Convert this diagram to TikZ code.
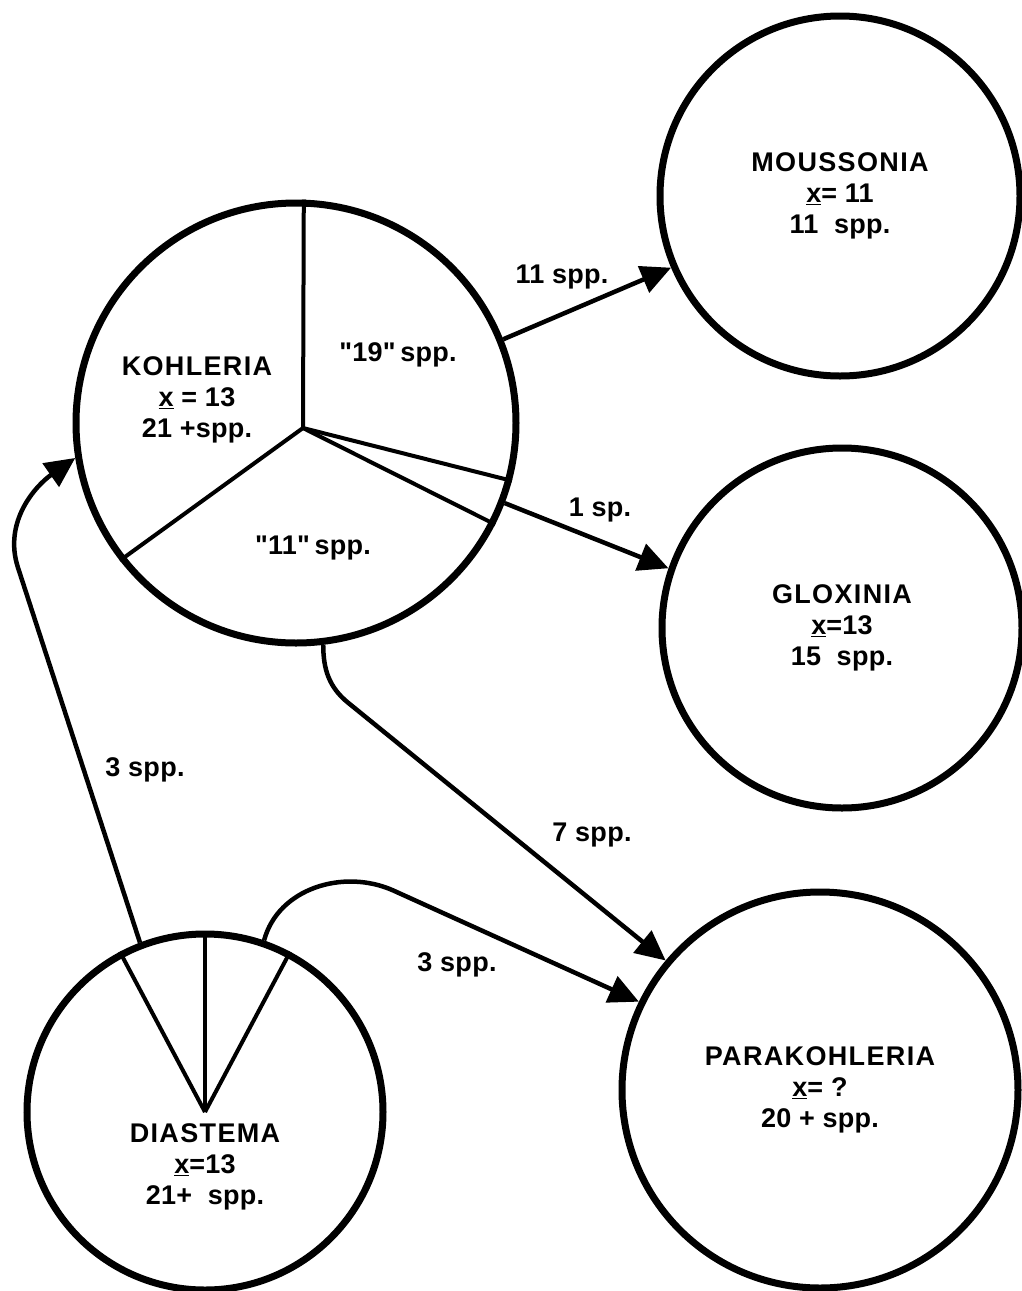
\documentclass[tikz,border=0pt]{standalone}
\usepackage{fontspec}
\setmainfont{Liberation Sans}[LetterSpace=1,Ligatures=TeXOff]
\usepackage{tikz}
\usetikzlibrary{arrows.meta}
\newcommand{\gname}[1]{{\addfontfeature{LetterSpace=5}#1}}

\begin{document}
\begin{tikzpicture}[
  x=1pt, y=-1pt,
  font=\fontsize{27}{31}\selectfont\bfseries,
  genus/.style={draw,circle,line width=7pt,inner sep=0pt,align=center},
  split/.style={line width=4pt},
  arrow/.style={-{Triangle[length=30pt,width=28pt]},line width=4.5pt}
]
  \useasboundingbox (0,0) rectangle (1022,1291);

  \node[genus, minimum size=440pt] (kohl) at (296,423) {};
  \node[genus, minimum size=360pt] (mous) at (840,196) {\gname{MOUSSONIA}\\\underline{x}= 11\\11\ \ spp.};
  \node[genus, minimum size=360pt] (glox) at (842,628) {\gname{GLOXINIA}\\\underline{x}=13\\15\ \ spp.};
  \node[genus, minimum size=356pt] (dias) at (205,1112) {};
  \node[genus, minimum size=396pt] (para) at (820,1090) {\gname{PARAKOHLERIA}\\\underline{x}=\ ?\\20 + spp.};

  % sectors of Kohleria and Diastema
  \coordinate (khub) at (303,428);
  \draw[split] (khub) -- (kohl.88);
  \draw[split] (khub) -- (kohl.218);
  \draw[split] (khub) -- (kohl.-15.6);
  \draw[split] (khub) -- (kohl.-27);
  \draw[split] (dias.center) -- (dias.118.5);
  \draw[split] (dias.center) -- (dias.90);
  \draw[split] (dias.center) -- (dias.62.8);

  \node[align=center] (kname) at (197,400) {\gname{KOHLERIA}\\\underline{x} = 13\\21 +spp.};
  \node (k19) at (398,355) {"19"\,spp.};
  \node (k11) at (313,548) {"11"\,spp.};
  \node[align=center] (dname) at (205,1167) {\gname{DIASTEMA}\\\underline{x}=13\\21+\ \ spp.};

  \draw[arrow] (kohl.22) -- (mous.203);
  \draw[arrow] (kohl.-21) -- (glox.161);
  \draw[arrow] (kohl.-83) to[out=-90,in=141] ++(25,58) -- (para.140);
  \draw[arrow] (dias.71) to[out=75,in=156] ++(129,-50) -- (para.154);
  \draw[arrow] (dias.111) -- ++(-122,-375) to[out=108,in=215] (kohl.189);

  \node (lab11) at (562,277) {11 spp.};
  \node (lab1) at (600,510) {1 sp.};
  \node (lab7) at (592,835) {7 spp.};
  \node (lab3a) at (145,770) {3 spp.};
  \node (lab3b) at (457,965) {3 spp.};
\end{tikzpicture}
\end{document}
